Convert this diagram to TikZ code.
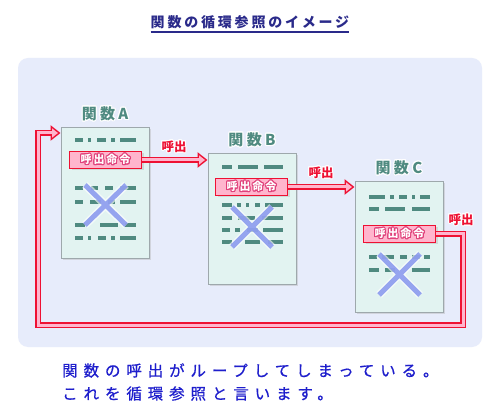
\documentclass[tikz,border=0pt]{standalone}
\usepackage{fontspec}
\usepackage{contour}
\usetikzlibrary{arrows.meta,positioning,shadows}

\setmainfont{Noto Sans CJK JP}
\newfontfamily\titlefont{Noto Sans CJK JP}[LetterSpace=20]
\newfontfamily\labelfont{Noto Sans CJK JP}[LetterSpace=22]
\newfontfamily\notefont{Noto Sans CJK JP}[LetterSpace=38, FakeBold=0.7]
\newfontfamily\callfont{Noto Sans CJK JP}[LetterSpace=18]

\definecolor{panelbg}{HTML}{E7ECFB}
\definecolor{docfill}{HTML}{E2F3F1}
\definecolor{docline}{HTML}{9EA8AC}
\definecolor{dashcol}{HTML}{4F8A80}
\definecolor{crosscol}{HTML}{8595EE}
\definecolor{callfill}{HTML}{FFB5CD}
\definecolor{callred}{HTML}{EE1133}
\definecolor{callink}{HTML}{E0407A}
\definecolor{titleblue}{HTML}{2A2A8A}
\definecolor{noteblue}{HTML}{1E1ECC}

\contourlength{1pt}

\begin{document}
\begin{tikzpicture}[x=1pt, y=-1pt,
	doc/.style={draw=docline, fill=docfill, line width=1pt, inner sep=0pt,
		minimum width=88pt, minimum height=131pt,
		drop shadow={shadow xshift=1.5pt, shadow yshift=-1.5pt, fill=black!30, opacity=.4}},
	fnlabel/.style={inner sep=0pt, text=dashcol, font=\labelfont\bfseries\fontsize{15}{15}\selectfont},
	callbox/.style={draw=callred, fill=callfill, line width=1pt, inner sep=0pt,
		minimum width=72pt, minimum height=17pt, text=white,
		font=\callfont\bfseries\fontsize{11}{11}\selectfont,
		drop shadow={shadow xshift=2pt, shadow yshift=-2pt, fill=black!30, opacity=.4}},
	calltext/.style={inner sep=0pt, text=callred, font=\bfseries\fontsize{12.5}{12.5}\selectfont},
	callarrow/.style={draw=callred, line width=6pt, -{Triangle[length=10pt, width=15pt]},
		postaction={draw=callfill, line width=3pt, shorten >=2.5pt, -{Triangle[length=6pt, width=9pt]}}},
	dashline/.style={draw=dashcol, line width=4pt},
	cross/.style={draw=crosscol, line width=5pt, opacity=.85,
		preaction={draw=white, line width=8pt, opacity=.6}}]

\useasboundingbox (0,0) rectangle (500,419);
\fill[white] (0,0) rectangle (500,419);

% title
\node[inner sep=0pt, text=titleblue, font=\titlefont\bfseries\fontsize{14}{14}\selectfont] (title) at (250,22) {関数の循環参照のイメージ};
\draw[titleblue, line width=1.3pt] ([yshift=-3pt]title.south west) -- ([yshift=-3pt]title.south east);

% panel
\fill[panelbg, rounded corners=10pt] (18,58) rectangle (482,347);

% functions
\node[doc] (fnA) at (105,193) {};
\node[doc] (fnB) at (252,219) {};
\node[doc] (fnC) at (399,247) {};

\node[fnlabel] (labA)[above=5pt of fnA] {\contour{white}{関数A}};
\node[fnlabel] (labB)[above=5pt of fnB] {\contour{white}{関数B}};
\node[fnlabel] (labC)[above=5pt of fnC] {\contour{white}{関数C}};

% dashes
\foreach \y/\a/\b in {140/75/83, 140/88/91, 140/97/106, 140/111/115, 140/120/136,
		188/75/83, 188/91/98, 188/105/113, 188/120/136,
		202/75/83, 202/90/101, 202/108/115, 202/120/136,
		225/75/85, 225/100/118, 225/125/136,
		238/75/83, 238/88/91, 238/98/106, 238/111/115, 238/120/136,
		167/222/232, 167/238/258, 167/264/283,
		205/222/232, 205/237/241, 205/246/249, 205/255/260, 205/265/283,
		218/222/232, 218/238/255, 218/262/283,
		230/222/230, 230/235/240, 230/247/258, 230/263/283,
		242/222/232, 242/245/260, 242/268/283,
		197/369/385, 197/390/394, 197/399/407, 197/412/415, 197/420/430,
		209/369/379, 209/385/405, 209/412/430,
		257/369/377, 257/382/394, 257/400/407, 257/412/420, 257/424/430,
		270/369/379, 270/385/395, 270/412/430}
	\draw[dashline] (\a,\y) -- (\b,\y);

% crossed out
\draw[cross] (85,185) -- (126,225) (126,185) -- (85,225);
\draw[cross] (232,207) -- (272,247) (272,207) -- (232,247);
\draw[cross] (379,254) -- (420,295) (420,254) -- (379,295);

% calls
\node[callbox] (callA) at (105.5,160) {\contour{callink}{呼出命令}};
\node[callbox] (callB) at (251.5,187) {\contour{callink}{呼出命令}};
\node[callbox] (callC) at (399.5,234) {\contour{callink}{呼出命令}};

\coordinate (loopSE) at (463,325);
\coordinate (loopSW) at (38,325);
\coordinate (inA) at (fnA.west |- 0,133);

\draw[callarrow] (callA.east) -- (callA.east -| fnB.west);
\draw[callarrow] (callB.east) -- (callB.east -| fnC.west);
\draw[callarrow] (callC.east) -| (loopSE) -- (loopSW) |- (inA);

\node[calltext] (retA) at (174,147) {\contour{white}{呼出}};
\node[calltext] (retB) at (321,173) {\contour{white}{呼出}};
\node[calltext] (retC) at (461,220) {\contour{white}{呼出}};

% note
\node[inner sep=0pt, anchor=west, align=left, text=noteblue,
	font=\notefont\fontsize{15.5}{23}\selectfont] (note) at (62,382)
	{関数の呼出がループしてしまっている。\\これを循環参照と言います。};

\end{tikzpicture}
\end{document}
